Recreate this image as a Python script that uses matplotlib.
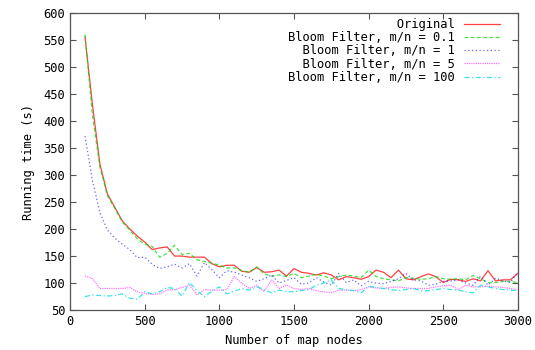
import numpy as np
import matplotlib
matplotlib.use('Agg')
import matplotlib.pyplot as plt

# map node counts (every 50 nodes)
nodes = np.arange(100, 3001, 50)

original = [555, 430, 320, 265, 240, 215, 200, 187, 176, 162,
            165, 167, 150, 150, 148, 148, 148, 136, 130, 133,
            133, 122, 120, 129, 120, 121, 124, 113, 127, 120,
            118, 115, 119, 115, 106, 112, 110, 107, 112, 124,
            120, 110, 124, 108, 106, 112, 117, 112, 101, 107,
            106, 103, 108, 104, 123, 104, 106, 106, 118]
bf_01 = [560, 410, 315, 262, 238, 213, 198, 182, 172, 168,
         148, 155, 170, 153, 155, 143, 140, 137, 133, 128,
         128, 123, 120, 130, 117, 113, 115, 112, 118, 110,
         113, 116, 113, 108, 112, 115, 113, 110, 124, 112,
         108, 106, 104, 110, 109, 107, 108, 112, 108, 107,
         108, 106, 114, 108, 101, 101, 103, 103, 101]
bf_1 = [372, 290, 230, 198, 183, 172, 162, 147, 148, 135,
        127, 130, 135, 128, 136, 113, 138, 125, 110, 123,
        120, 115, 110, 103, 108, 115, 100, 105, 110, 98,
        100, 110, 102, 96, 118, 101, 106, 95, 103, 100,
        99, 103, 108, 118, 106, 104, 96, 98, 103, 104,
        106, 100, 96, 113, 96, 109, 104, 101, 121]
bf_5 = [113, 108, 90, 90, 90, 90, 92, 84, 81, 79,
        80, 87, 88, 92, 96, 78, 88, 87, 87, 88,
        112, 100, 90, 96, 84, 106, 90, 96, 90, 88,
        90, 86, 84, 82, 87, 87, 86, 88, 93, 91,
        90, 92, 93, 91, 90, 90, 90, 93, 95, 96,
        88, 96, 93, 93, 94, 93, 92, 90, 88]
bf_100 = [75, 78, 77, 76, 77, 80, 72, 70, 84, 80,
          84, 92, 90, 76, 101, 86, 75, 85, 93, 80,
          85, 90, 87, 93, 88, 82, 87, 84, 84, 86,
          88, 96, 100, 106, 90, 88, 86, 82, 94, 92,
          90, 88, 86, 88, 90, 86, 86, 88, 90, 88,
          87, 84, 82, 96, 93, 90, 88, 87, 86]

labels = ['Original', 'Bloom Filter, m/n = 0.1', 'Bloom Filter, m/n = 1',
          'Bloom Filter, m/n = 5', 'Bloom Filter, m/n = 100']

plt.rcParams['font.family'] = 'DejaVu Sans Mono'
plt.rcParams['font.size'] = 8.7

fig = plt.figure(figsize=(5.35, 3.5), dpi=100)
ax = fig.add_axes([0.131, 0.114, 0.837, 0.849])

# pad labels so the monospace text lines up on the right like gnuplot
w = max(len(s) for s in labels)
lab = [s.rjust(w) for s in labels]

ax.plot(nodes, original, color='#ff0000', lw=0.9, alpha=0.75, label=lab[0])
ax.plot(nodes, bf_01, color='#00dd00', lw=0.9, alpha=0.75, ls=(0, (3, 2)), label=lab[1])
ax.plot(nodes, bf_1, color='#0000ff', lw=0.9, alpha=0.6, ls=(0, (1, 2)), label=lab[2])
ax.plot(nodes, bf_5, color='#ff00ff', lw=0.9, alpha=0.55, ls=(0, (1, 0.8)), label=lab[3])
ax.plot(nodes, bf_100, color='#00e0e0', lw=0.9, alpha=0.8, ls=(0, (4, 2, 1, 2)), label=lab[4])

ax.set_xlim(0, 3000)
ax.set_ylim(50, 600)
ax.set_xticks(range(0, 3001, 500))
ax.set_yticks(range(50, 601, 50))
ax.tick_params(direction='in', top=True, right=True, length=4, width=0.8, color='#555555')
for s in ax.spines.values():
    s.set_color('#555555')
    s.set_linewidth(0.9)

ax.set_xlabel('Number of map nodes', labelpad=4)
ax.set_ylabel('Running time (s)', labelpad=6)

ax.legend(loc='upper right', frameon=False, markerfirst=False, handlelength=3.0,
          handletextpad=0.8, labelspacing=0.02, borderaxespad=0.3,
          bbox_to_anchor=(0.98, 1.012))

fig.savefig('out.png', dpi=100)
